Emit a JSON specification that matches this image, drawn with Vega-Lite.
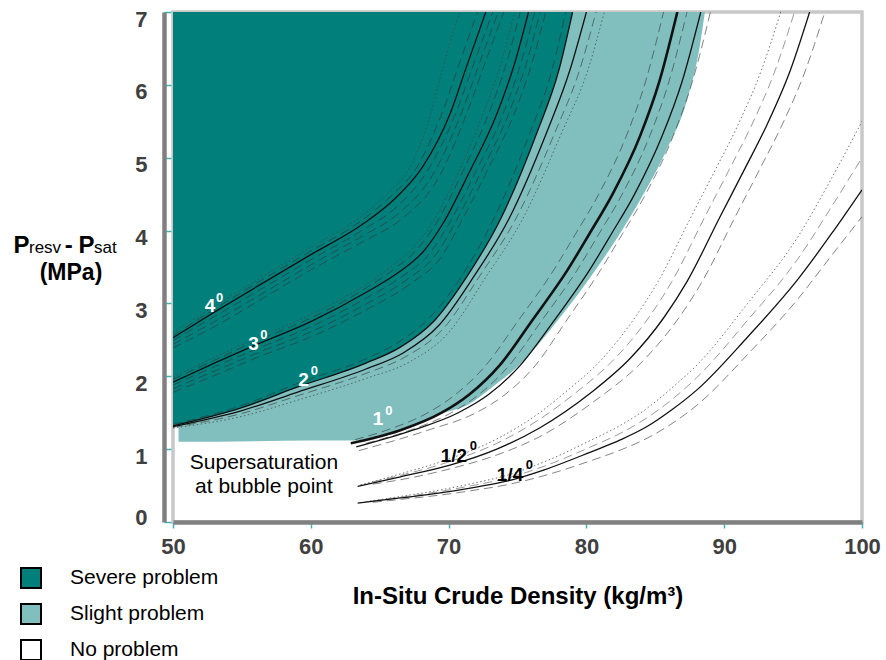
{
  "$schema": "https://vega.github.io/schema/vega-lite/v6.json",
  "width": 689,
  "height": 510,
  "autosize": {"type": "none"},
  "padding": {"left": 173, "top": 12, "right": 24, "bottom": 138},
  "background": "white",
  "config": {
    "font": "Liberation Sans",
    "view": {"stroke": "#c8c8c8", "strokeWidth": 3.5},
    "axis": {"grid": false}
  },
  "datasets": {
    "zones": [
      {"zone": "Slight problem", "x": 50.4, "y": 1.1},
      {"zone": "Slight problem", "x": 56, "y": 1.11},
      {"zone": "Slight problem", "x": 60, "y": 1.12},
      {"zone": "Slight problem", "x": 63.3, "y": 1.12},
      {"zone": "Slight problem", "x": 66.5, "y": 1.25},
      {"zone": "Slight problem", "x": 69.5, "y": 1.49},
      {"zone": "Slight problem", "x": 71.3, "y": 1.6},
      {"zone": "Slight problem", "x": 73.5, "y": 1.9},
      {"zone": "Slight problem", "x": 75, "y": 2.13},
      {"zone": "Slight problem", "x": 78.1, "y": 2.81},
      {"zone": "Slight problem", "x": 81, "y": 3.55},
      {"zone": "Slight problem", "x": 83.9, "y": 4.42},
      {"zone": "Slight problem", "x": 85.8, "y": 5.1},
      {"zone": "Slight problem", "x": 87.3, "y": 5.79},
      {"zone": "Slight problem", "x": 88.2, "y": 6.5},
      {"zone": "Slight problem", "x": 88.6, "y": 7.0},
      {"zone": "Severe problem", "x": 50, "y": 1.32},
      {"zone": "Severe problem", "x": 55, "y": 1.57},
      {"zone": "Severe problem", "x": 59, "y": 1.85},
      {"zone": "Severe problem", "x": 64, "y": 2.18},
      {"zone": "Severe problem", "x": 66.5, "y": 2.4},
      {"zone": "Severe problem", "x": 69, "y": 2.77},
      {"zone": "Severe problem", "x": 71.3, "y": 3.36},
      {"zone": "Severe problem", "x": 73.8, "y": 4.17},
      {"zone": "Severe problem", "x": 76.4, "y": 5.34},
      {"zone": "Severe problem", "x": 78.0, "y": 6.2},
      {"zone": "Severe problem", "x": 79, "y": 7.0}
    ],
    "curves": [
      {"id": "4s", "k": "solid", "x": 50, "y": 2.53}, {"id": "4s", "k": "solid", "x": 53, "y": 2.88}, {"id": "4s", "k": "solid", "x": 56.7, "y": 3.3}, {"id": "4s", "k": "solid", "x": 60, "y": 3.67}, {"id": "4s", "k": "solid", "x": 63.7, "y": 4.08}, {"id": "4s", "k": "solid", "x": 66, "y": 4.42}, {"id": "4s", "k": "solid", "x": 68.1, "y": 4.87}, {"id": "4s", "k": "solid", "x": 70.1, "y": 5.6}, {"id": "4s", "k": "solid", "x": 71.3, "y": 6.25}, {"id": "4s", "k": "solid", "x": 72.7, "y": 7.0},
      {"id": "4o", "k": "dot", "x": 50, "y": 2.6}, {"id": "4o", "k": "dot", "x": 53, "y": 2.96}, {"id": "4o", "k": "dot", "x": 56.7, "y": 3.39}, {"id": "4o", "k": "dot", "x": 60, "y": 3.77}, {"id": "4o", "k": "dot", "x": 63.7, "y": 4.2}, {"id": "4o", "k": "dot", "x": 65.5, "y": 4.5}, {"id": "4o", "k": "dot", "x": 67.2, "y": 4.87}, {"id": "4o", "k": "dot", "x": 68.7, "y": 5.6}, {"id": "4o", "k": "dot", "x": 69.6, "y": 6.25}, {"id": "4o", "k": "dot", "x": 70.8, "y": 7.0},
      {"id": "4a", "k": "dash", "x": 50, "y": 2.56}, {"id": "4a", "k": "dash", "x": 53, "y": 2.92}, {"id": "4a", "k": "dash", "x": 56.7, "y": 3.35}, {"id": "4a", "k": "dash", "x": 60, "y": 3.72}, {"id": "4a", "k": "dash", "x": 63.7, "y": 4.14}, {"id": "4a", "k": "dash", "x": 65.8, "y": 4.47}, {"id": "4a", "k": "dash", "x": 67.7, "y": 4.87}, {"id": "4a", "k": "dash", "x": 69.5, "y": 5.6}, {"id": "4a", "k": "dash", "x": 70.7, "y": 6.25}, {"id": "4a", "k": "dash", "x": 72.1, "y": 7.0},
      {"id": "4b", "k": "dash", "x": 50, "y": 2.49}, {"id": "4b", "k": "dash", "x": 53, "y": 2.82}, {"id": "4b", "k": "dash", "x": 56.7, "y": 3.23}, {"id": "4b", "k": "dash", "x": 60, "y": 3.6}, {"id": "4b", "k": "dash", "x": 63.7, "y": 4.0}, {"id": "4b", "k": "dash", "x": 66.2, "y": 4.32}, {"id": "4b", "k": "dash", "x": 68.4, "y": 4.8}, {"id": "4b", "k": "dash", "x": 70.5, "y": 5.6}, {"id": "4b", "k": "dash", "x": 71.75, "y": 6.25}, {"id": "4b", "k": "dash", "x": 73.2, "y": 7.0},
      {"id": "4c", "k": "dash", "x": 50, "y": 2.44}, {"id": "4c", "k": "dash", "x": 53, "y": 2.75}, {"id": "4c", "k": "dash", "x": 56.7, "y": 3.16}, {"id": "4c", "k": "dash", "x": 60, "y": 3.53}, {"id": "4c", "k": "dash", "x": 63.7, "y": 3.92}, {"id": "4c", "k": "dash", "x": 66.4, "y": 4.24}, {"id": "4c", "k": "dash", "x": 68.8, "y": 4.75}, {"id": "4c", "k": "dash", "x": 70.9, "y": 5.6}, {"id": "4c", "k": "dash", "x": 72.15, "y": 6.25}, {"id": "4c", "k": "dash", "x": 73.6, "y": 7.0},
      {"id": "4d", "k": "dash", "x": 50, "y": 2.39}, {"id": "4d", "k": "dash", "x": 53, "y": 2.68}, {"id": "4d", "k": "dash", "x": 56.7, "y": 3.09}, {"id": "4d", "k": "dash", "x": 60, "y": 3.46}, {"id": "4d", "k": "dash", "x": 63.7, "y": 3.84}, {"id": "4d", "k": "dash", "x": 66.6, "y": 4.16}, {"id": "4d", "k": "dash", "x": 69.2, "y": 4.7}, {"id": "4d", "k": "dash", "x": 71.3, "y": 5.6}, {"id": "4d", "k": "dash", "x": 72.55, "y": 6.25}, {"id": "4d", "k": "dash", "x": 74.0, "y": 7.0},
      {"id": "3s", "k": "solid", "x": 50, "y": 1.92}, {"id": "3s", "k": "solid", "x": 53, "y": 2.18}, {"id": "3s", "k": "solid", "x": 56, "y": 2.43}, {"id": "3s", "k": "solid", "x": 60, "y": 2.75}, {"id": "3s", "k": "solid", "x": 64, "y": 3.15}, {"id": "3s", "k": "solid", "x": 66.4, "y": 3.43}, {"id": "3s", "k": "solid", "x": 68.2, "y": 3.72}, {"id": "3s", "k": "solid", "x": 69.6, "y": 4.1}, {"id": "3s", "k": "solid", "x": 71.5, "y": 4.8}, {"id": "3s", "k": "solid", "x": 73.5, "y": 5.6}, {"id": "3s", "k": "solid", "x": 74.8, "y": 6.3}, {"id": "3s", "k": "solid", "x": 75.8, "y": 7.0},
      {"id": "3o", "k": "dot", "x": 50, "y": 1.99}, {"id": "3o", "k": "dot", "x": 53, "y": 2.26}, {"id": "3o", "k": "dot", "x": 56, "y": 2.52}, {"id": "3o", "k": "dot", "x": 60, "y": 2.85}, {"id": "3o", "k": "dot", "x": 64, "y": 3.26}, {"id": "3o", "k": "dot", "x": 66, "y": 3.53}, {"id": "3o", "k": "dot", "x": 67.6, "y": 3.8}, {"id": "3o", "k": "dot", "x": 68.8, "y": 4.1}, {"id": "3o", "k": "dot", "x": 70.7, "y": 4.8}, {"id": "3o", "k": "dot", "x": 72.5, "y": 5.6}, {"id": "3o", "k": "dot", "x": 73.8, "y": 6.3}, {"id": "3o", "k": "dot", "x": 74.8, "y": 7.0},
      {"id": "3a", "k": "dash", "x": 50, "y": 1.96}, {"id": "3a", "k": "dash", "x": 53, "y": 2.22}, {"id": "3a", "k": "dash", "x": 56, "y": 2.48}, {"id": "3a", "k": "dash", "x": 60, "y": 2.8}, {"id": "3a", "k": "dash", "x": 64, "y": 3.21}, {"id": "3a", "k": "dash", "x": 66.1, "y": 3.48}, {"id": "3a", "k": "dash", "x": 67.8, "y": 3.76}, {"id": "3a", "k": "dash", "x": 69.1, "y": 4.1}, {"id": "3a", "k": "dash", "x": 71, "y": 4.8}, {"id": "3a", "k": "dash", "x": 72.9, "y": 5.6}, {"id": "3a", "k": "dash", "x": 74.2, "y": 6.3}, {"id": "3a", "k": "dash", "x": 75.2, "y": 7.0},
      {"id": "3b", "k": "dash", "x": 50, "y": 1.88}, {"id": "3b", "k": "dash", "x": 53, "y": 2.13}, {"id": "3b", "k": "dash", "x": 56, "y": 2.37}, {"id": "3b", "k": "dash", "x": 60, "y": 2.68}, {"id": "3b", "k": "dash", "x": 64, "y": 3.07}, {"id": "3b", "k": "dash", "x": 66.7, "y": 3.38}, {"id": "3b", "k": "dash", "x": 68.6, "y": 3.68}, {"id": "3b", "k": "dash", "x": 70.05, "y": 4.1}, {"id": "3b", "k": "dash", "x": 71.95, "y": 4.8}, {"id": "3b", "k": "dash", "x": 73.95, "y": 5.6}, {"id": "3b", "k": "dash", "x": 75.25, "y": 6.3}, {"id": "3b", "k": "dash", "x": 76.25, "y": 7.0},
      {"id": "3c", "k": "dash", "x": 50, "y": 1.83}, {"id": "3c", "k": "dash", "x": 53, "y": 2.07}, {"id": "3c", "k": "dash", "x": 56, "y": 2.31}, {"id": "3c", "k": "dash", "x": 60, "y": 2.61}, {"id": "3c", "k": "dash", "x": 64, "y": 2.99}, {"id": "3c", "k": "dash", "x": 67.0, "y": 3.33}, {"id": "3c", "k": "dash", "x": 69.0, "y": 3.65}, {"id": "3c", "k": "dash", "x": 70.45, "y": 4.1}, {"id": "3c", "k": "dash", "x": 72.35, "y": 4.8}, {"id": "3c", "k": "dash", "x": 74.35, "y": 5.6}, {"id": "3c", "k": "dash", "x": 75.65, "y": 6.3}, {"id": "3c", "k": "dash", "x": 76.65, "y": 7.0},
      {"id": "3d", "k": "dash", "x": 50, "y": 1.78}, {"id": "3d", "k": "dash", "x": 53, "y": 2.01}, {"id": "3d", "k": "dash", "x": 56, "y": 2.25}, {"id": "3d", "k": "dash", "x": 60, "y": 2.54}, {"id": "3d", "k": "dash", "x": 64, "y": 2.91}, {"id": "3d", "k": "dash", "x": 67.3, "y": 3.28}, {"id": "3d", "k": "dash", "x": 69.4, "y": 3.62}, {"id": "3d", "k": "dash", "x": 70.85, "y": 4.1}, {"id": "3d", "k": "dash", "x": 72.75, "y": 4.8}, {"id": "3d", "k": "dash", "x": 74.75, "y": 5.6}, {"id": "3d", "k": "dash", "x": 76.05, "y": 6.3}, {"id": "3d", "k": "dash", "x": 77.05, "y": 7.0},
      {"id": "2s", "k": "solid", "x": 50, "y": 1.32}, {"id": "2s", "k": "solid", "x": 55, "y": 1.57}, {"id": "2s", "k": "solid", "x": 59, "y": 1.85}, {"id": "2s", "k": "solid", "x": 64, "y": 2.18}, {"id": "2s", "k": "solid", "x": 66.5, "y": 2.4}, {"id": "2s", "k": "solid", "x": 69, "y": 2.77}, {"id": "2s", "k": "solid", "x": 71.3, "y": 3.36}, {"id": "2s", "k": "solid", "x": 73.8, "y": 4.17}, {"id": "2s", "k": "solid", "x": 76.4, "y": 5.34}, {"id": "2s", "k": "solid", "x": 78.0, "y": 6.2}, {"id": "2s", "k": "solid", "x": 79, "y": 7.0},
      {"id": "2a", "k": "dash", "x": 50, "y": 1.34}, {"id": "2a", "k": "dash", "x": 55, "y": 1.6}, {"id": "2a", "k": "dash", "x": 59, "y": 1.9}, {"id": "2a", "k": "dash", "x": 64, "y": 2.24}, {"id": "2a", "k": "dash", "x": 66.3, "y": 2.46}, {"id": "2a", "k": "dash", "x": 68.7, "y": 2.82}, {"id": "2a", "k": "dash", "x": 70.9, "y": 3.36}, {"id": "2a", "k": "dash", "x": 73.3, "y": 4.17}, {"id": "2a", "k": "dash", "x": 75.9, "y": 5.34}, {"id": "2a", "k": "dash", "x": 77.5, "y": 6.2}, {"id": "2a", "k": "dash", "x": 78.5, "y": 7.0},
      {"id": "2t", "k": "solid", "x": 50, "y": 1.31}, {"id": "2t", "k": "solid", "x": 55, "y": 1.53}, {"id": "2t", "k": "solid", "x": 59, "y": 1.78}, {"id": "2t", "k": "solid", "x": 64, "y": 2.1}, {"id": "2t", "k": "solid", "x": 66.7, "y": 2.32}, {"id": "2t", "k": "solid", "x": 69.3, "y": 2.7}, {"id": "2t", "k": "solid", "x": 71.8, "y": 3.36}, {"id": "2t", "k": "solid", "x": 74.4, "y": 4.17}, {"id": "2t", "k": "solid", "x": 77.1, "y": 5.34}, {"id": "2t", "k": "solid", "x": 78.8, "y": 6.2}, {"id": "2t", "k": "solid", "x": 80.0, "y": 7.0},
      {"id": "2b", "k": "dash", "x": 50, "y": 1.3}, {"id": "2b", "k": "dash", "x": 55, "y": 1.49}, {"id": "2b", "k": "dash", "x": 59, "y": 1.73}, {"id": "2b", "k": "dash", "x": 64, "y": 2.04}, {"id": "2b", "k": "dash", "x": 66.9, "y": 2.27}, {"id": "2b", "k": "dash", "x": 69.6, "y": 2.65}, {"id": "2b", "k": "dash", "x": 72.2, "y": 3.36}, {"id": "2b", "k": "dash", "x": 74.9, "y": 4.17}, {"id": "2b", "k": "dash", "x": 77.7, "y": 5.34}, {"id": "2b", "k": "dash", "x": 79.5, "y": 6.2}, {"id": "2b", "k": "dash", "x": 80.7, "y": 7.0},
      {"id": "2o", "k": "dot", "x": 50, "y": 1.29}, {"id": "2o", "k": "dot", "x": 55, "y": 1.45}, {"id": "2o", "k": "dot", "x": 59, "y": 1.67}, {"id": "2o", "k": "dot", "x": 64, "y": 1.97}, {"id": "2o", "k": "dot", "x": 67.2, "y": 2.2}, {"id": "2o", "k": "dot", "x": 70, "y": 2.6}, {"id": "2o", "k": "dot", "x": 72.7, "y": 3.36}, {"id": "2o", "k": "dot", "x": 75.4, "y": 4.17}, {"id": "2o", "k": "dot", "x": 78.2, "y": 5.34}, {"id": "2o", "k": "dot", "x": 80.1, "y": 6.2}, {"id": "2o", "k": "dot", "x": 81.3, "y": 7.0},
      {"id": "1s", "k": "thick", "x": 62.9, "y": 1.08}, {"id": "1s", "k": "thick", "x": 64.5, "y": 1.15}, {"id": "1s", "k": "thick", "x": 66.5, "y": 1.26}, {"id": "1s", "k": "thick", "x": 69.5, "y": 1.5}, {"id": "1s", "k": "thick", "x": 71.5, "y": 1.75}, {"id": "1s", "k": "thick", "x": 73.7, "y": 2.15}, {"id": "1s", "k": "thick", "x": 76, "y": 2.75}, {"id": "1s", "k": "thick", "x": 78.6, "y": 3.45}, {"id": "1s", "k": "thick", "x": 80.2, "y": 3.95}, {"id": "1s", "k": "thick", "x": 81.9, "y": 4.5}, {"id": "1s", "k": "thick", "x": 83.9, "y": 5.3}, {"id": "1s", "k": "thick", "x": 85.3, "y": 6.05}, {"id": "1s", "k": "thick", "x": 86.6, "y": 7.0},
      {"id": "1a", "k": "dash", "x": 63.2, "y": 1.13}, {"id": "1a", "k": "dash", "x": 65.5, "y": 1.26}, {"id": "1a", "k": "dash", "x": 68.5, "y": 1.5}, {"id": "1a", "k": "dash", "x": 70.5, "y": 1.75}, {"id": "1a", "k": "dash", "x": 72.7, "y": 2.15}, {"id": "1a", "k": "dash", "x": 75, "y": 2.75}, {"id": "1a", "k": "dash", "x": 77.6, "y": 3.45}, {"id": "1a", "k": "dash", "x": 79.2, "y": 3.95}, {"id": "1a", "k": "dash", "x": 80.9, "y": 4.5}, {"id": "1a", "k": "dash", "x": 82.9, "y": 5.3}, {"id": "1a", "k": "dash", "x": 84.3, "y": 6.05}, {"id": "1a", "k": "dash", "x": 85.6, "y": 7.0},
      {"id": "1t", "k": "solid", "x": 63.3, "y": 1.03}, {"id": "1t", "k": "solid", "x": 67.4, "y": 1.26}, {"id": "1t", "k": "solid", "x": 70.7, "y": 1.5}, {"id": "1t", "k": "solid", "x": 72.9, "y": 1.75}, {"id": "1t", "k": "solid", "x": 75.2, "y": 2.15}, {"id": "1t", "k": "solid", "x": 77.6, "y": 2.75}, {"id": "1t", "k": "solid", "x": 80.2, "y": 3.45}, {"id": "1t", "k": "solid", "x": 81.8, "y": 3.95}, {"id": "1t", "k": "solid", "x": 83.5, "y": 4.5}, {"id": "1t", "k": "solid", "x": 85.5, "y": 5.3}, {"id": "1t", "k": "solid", "x": 86.95, "y": 6.05}, {"id": "1t", "k": "solid", "x": 88.3, "y": 7.0},
      {"id": "1b", "k": "dash", "x": 64, "y": 1.08}, {"id": "1b", "k": "dash", "x": 67.2, "y": 1.26}, {"id": "1b", "k": "dash", "x": 70.2, "y": 1.5}, {"id": "1b", "k": "dash", "x": 72.2, "y": 1.75}, {"id": "1b", "k": "dash", "x": 74.4, "y": 2.15}, {"id": "1b", "k": "dash", "x": 76.7, "y": 2.75}, {"id": "1b", "k": "dash", "x": 79.3, "y": 3.45}, {"id": "1b", "k": "dash", "x": 80.9, "y": 3.95}, {"id": "1b", "k": "dash", "x": 82.6, "y": 4.5}, {"id": "1b", "k": "dash", "x": 84.6, "y": 5.3}, {"id": "1b", "k": "dash", "x": 86.0, "y": 6.05}, {"id": "1b", "k": "dash", "x": 87.3, "y": 7.0},
      {"id": "1c", "k": "dash", "x": 63.5, "y": 0.98}, {"id": "1c", "k": "dash", "x": 68.5, "y": 1.26}, {"id": "1c", "k": "dash", "x": 72, "y": 1.5}, {"id": "1c", "k": "dash", "x": 74.1, "y": 1.75}, {"id": "1c", "k": "dash", "x": 76.3, "y": 2.15}, {"id": "1c", "k": "dash", "x": 78.5, "y": 2.75}, {"id": "1c", "k": "dash", "x": 81.0, "y": 3.45}, {"id": "1c", "k": "dash", "x": 82.6, "y": 3.95}, {"id": "1c", "k": "dash", "x": 84.3, "y": 4.5}, {"id": "1c", "k": "dash", "x": 86.3, "y": 5.3}, {"id": "1c", "k": "dash", "x": 87.7, "y": 6.05}, {"id": "1c", "k": "dash", "x": 89.0, "y": 7.0},
      {"id": "hs", "k": "solid", "x": 63.4, "y": 0.49}, {"id": "hs", "k": "solid", "x": 66.5, "y": 0.62}, {"id": "hs", "k": "solid", "x": 70.1, "y": 0.78}, {"id": "hs", "k": "solid", "x": 73.5, "y": 1.0}, {"id": "hs", "k": "solid", "x": 76.6, "y": 1.29}, {"id": "hs", "k": "solid", "x": 80.3, "y": 1.77}, {"id": "hs", "k": "solid", "x": 83.2, "y": 2.25}, {"id": "hs", "k": "solid", "x": 85.6, "y": 2.8}, {"id": "hs", "k": "solid", "x": 87.3, "y": 3.3}, {"id": "hs", "k": "solid", "x": 89.7, "y": 4.19}, {"id": "hs", "k": "solid", "x": 91.5, "y": 4.85}, {"id": "hs", "k": "solid", "x": 93.1, "y": 5.45}, {"id": "hs", "k": "solid", "x": 94.8, "y": 6.2}, {"id": "hs", "k": "solid", "x": 96.2, "y": 7.0},
      {"id": "ho", "k": "dot", "x": 63.6, "y": 0.51}, {"id": "ho", "k": "dot", "x": 66.5, "y": 0.66}, {"id": "ho", "k": "dot", "x": 70.1, "y": 0.87}, {"id": "ho", "k": "dot", "x": 73.5, "y": 1.14}, {"id": "ho", "k": "dot", "x": 76.6, "y": 1.5}, {"id": "ho", "k": "dot", "x": 78.4, "y": 1.77}, {"id": "ho", "k": "dot", "x": 81.2, "y": 2.25}, {"id": "ho", "k": "dot", "x": 83.5, "y": 2.8}, {"id": "ho", "k": "dot", "x": 85.2, "y": 3.3}, {"id": "ho", "k": "dot", "x": 87.6, "y": 4.19}, {"id": "ho", "k": "dot", "x": 89.4, "y": 4.85}, {"id": "ho", "k": "dot", "x": 91.0, "y": 5.45}, {"id": "ho", "k": "dot", "x": 92.7, "y": 6.2}, {"id": "ho", "k": "dot", "x": 94.1, "y": 7.0},
      {"id": "ha", "k": "dashl", "x": 64.5, "y": 0.55}, {"id": "ha", "k": "dashl", "x": 66.5, "y": 0.64}, {"id": "ha", "k": "dashl", "x": 70.1, "y": 0.83}, {"id": "ha", "k": "dashl", "x": 73.5, "y": 1.08}, {"id": "ha", "k": "dashl", "x": 76.6, "y": 1.41}, {"id": "ha", "k": "dashl", "x": 79.2, "y": 1.77}, {"id": "ha", "k": "dashl", "x": 82.1, "y": 2.25}, {"id": "ha", "k": "dashl", "x": 84.5, "y": 2.8}, {"id": "ha", "k": "dashl", "x": 86.2, "y": 3.3}, {"id": "ha", "k": "dashl", "x": 88.6, "y": 4.19}, {"id": "ha", "k": "dashl", "x": 90.4, "y": 4.85}, {"id": "ha", "k": "dashl", "x": 92.0, "y": 5.45}, {"id": "ha", "k": "dashl", "x": 93.7, "y": 6.2}, {"id": "ha", "k": "dashl", "x": 95.1, "y": 7.0},
      {"id": "hb", "k": "dash", "x": 64.5, "y": 0.52}, {"id": "hb", "k": "dash", "x": 66.5, "y": 0.58}, {"id": "hb", "k": "dash", "x": 70.1, "y": 0.73}, {"id": "hb", "k": "dash", "x": 73.5, "y": 0.92}, {"id": "hb", "k": "dash", "x": 76.6, "y": 1.17}, {"id": "hb", "k": "dash", "x": 80.3, "y": 1.62}, {"id": "hb", "k": "dash", "x": 84.3, "y": 2.25}, {"id": "hb", "k": "dash", "x": 86.7, "y": 2.8}, {"id": "hb", "k": "dash", "x": 88.4, "y": 3.3}, {"id": "hb", "k": "dash", "x": 90.8, "y": 4.19}, {"id": "hb", "k": "dash", "x": 92.6, "y": 4.85}, {"id": "hb", "k": "dash", "x": 94.2, "y": 5.45}, {"id": "hb", "k": "dash", "x": 95.9, "y": 6.2}, {"id": "hb", "k": "dash", "x": 97.3, "y": 7.0},
      {"id": "qs", "k": "solid", "x": 63.4, "y": 0.26}, {"id": "qs", "k": "solid", "x": 66.5, "y": 0.33}, {"id": "qs", "k": "solid", "x": 69.4, "y": 0.4}, {"id": "qs", "k": "solid", "x": 72, "y": 0.48}, {"id": "qs", "k": "solid", "x": 74.2, "y": 0.56}, {"id": "qs", "k": "solid", "x": 77, "y": 0.72}, {"id": "qs", "k": "solid", "x": 80.3, "y": 0.96}, {"id": "qs", "k": "solid", "x": 82.5, "y": 1.13}, {"id": "qs", "k": "solid", "x": 84.4, "y": 1.31}, {"id": "qs", "k": "solid", "x": 86.2, "y": 1.54}, {"id": "qs", "k": "solid", "x": 88, "y": 1.81}, {"id": "qs", "k": "solid", "x": 91.7, "y": 2.54}, {"id": "qs", "k": "solid", "x": 95.3, "y": 3.32}, {"id": "qs", "k": "solid", "x": 97.8, "y": 3.96}, {"id": "qs", "k": "solid", "x": 100, "y": 4.56},
      {"id": "qo", "k": "dot", "x": 64, "y": 0.28}, {"id": "qo", "k": "dot", "x": 66.5, "y": 0.35}, {"id": "qo", "k": "dot", "x": 69.4, "y": 0.44}, {"id": "qo", "k": "dot", "x": 72, "y": 0.54}, {"id": "qo", "k": "dot", "x": 74.2, "y": 0.64}, {"id": "qo", "k": "dot", "x": 77, "y": 0.83}, {"id": "qo", "k": "dot", "x": 80.3, "y": 1.12}, {"id": "qo", "k": "dot", "x": 82.5, "y": 1.33}, {"id": "qo", "k": "dot", "x": 84.4, "y": 1.56}, {"id": "qo", "k": "dot", "x": 86.2, "y": 1.84}, {"id": "qo", "k": "dot", "x": 88, "y": 2.15}, {"id": "qo", "k": "dot", "x": 91.7, "y": 3.0}, {"id": "qo", "k": "dot", "x": 95.3, "y": 3.9}, {"id": "qo", "k": "dot", "x": 97.8, "y": 4.72}, {"id": "qo", "k": "dot", "x": 100, "y": 5.5},
      {"id": "qa", "k": "dashl", "x": 64.5, "y": 0.29}, {"id": "qa", "k": "dashl", "x": 66.5, "y": 0.34}, {"id": "qa", "k": "dashl", "x": 69.4, "y": 0.42}, {"id": "qa", "k": "dashl", "x": 72, "y": 0.51}, {"id": "qa", "k": "dashl", "x": 74.2, "y": 0.6}, {"id": "qa", "k": "dashl", "x": 77, "y": 0.77}, {"id": "qa", "k": "dashl", "x": 80.3, "y": 1.03}, {"id": "qa", "k": "dashl", "x": 82.5, "y": 1.22}, {"id": "qa", "k": "dashl", "x": 84.4, "y": 1.43}, {"id": "qa", "k": "dashl", "x": 86.2, "y": 1.68}, {"id": "qa", "k": "dashl", "x": 88, "y": 1.98}, {"id": "qa", "k": "dashl", "x": 91.7, "y": 2.77}, {"id": "qa", "k": "dashl", "x": 95.3, "y": 3.6}, {"id": "qa", "k": "dashl", "x": 97.8, "y": 4.33}, {"id": "qa", "k": "dashl", "x": 100, "y": 5.0},
      {"id": "qb", "k": "dash", "x": 64.5, "y": 0.27}, {"id": "qb", "k": "dash", "x": 66.5, "y": 0.31}, {"id": "qb", "k": "dash", "x": 69.4, "y": 0.37}, {"id": "qb", "k": "dash", "x": 72, "y": 0.44}, {"id": "qb", "k": "dash", "x": 74.2, "y": 0.51}, {"id": "qb", "k": "dash", "x": 77, "y": 0.64}, {"id": "qb", "k": "dash", "x": 80.3, "y": 0.84}, {"id": "qb", "k": "dash", "x": 82.5, "y": 0.99}, {"id": "qb", "k": "dash", "x": 84.4, "y": 1.15}, {"id": "qb", "k": "dash", "x": 86.2, "y": 1.35}, {"id": "qb", "k": "dash", "x": 88, "y": 1.6}, {"id": "qb", "k": "dash", "x": 91.7, "y": 2.3}, {"id": "qb", "k": "dash", "x": 95.3, "y": 3.05}, {"id": "qb", "k": "dash", "x": 97.8, "y": 3.66}, {"id": "qb", "k": "dash", "x": 100, "y": 4.19}
    ],
    "labels": [
      {"g": "w", "t": "4", "x": 52.69, "y": 2.97},
      {"g": "w", "t": "3", "x": 55.84, "y": 2.44},
      {"g": "w", "t": "2", "x": 59.47, "y": 1.95},
      {"g": "w", "t": "1", "x": 64.88, "y": 1.41},
      {"g": "ws", "t": "0", "x": 53.38, "y": 3.08},
      {"g": "ws", "t": "0", "x": 56.6, "y": 2.56},
      {"g": "ws", "t": "0", "x": 60.26, "y": 2.07},
      {"g": "ws", "t": "0", "x": 65.67, "y": 1.53},
      {"g": "b", "t": "1/2", "x": 70.39, "y": 0.91},
      {"g": "b", "t": "1/4", "x": 74.46, "y": 0.645},
      {"g": "bs", "t": "0", "x": 71.8, "y": 1.04},
      {"g": "bs", "t": "0", "x": 75.86, "y": 0.78},
      {"g": "ss", "t": "Supersaturation", "x": 56.6, "y": 0.734},
      {"g": "ss", "t": "at bubble point", "x": 56.6, "y": 0.398},
      {"g": "yP", "t": "P", "x": 38.43, "y": 3.692},
      {"g": "ys", "t": "resv", "x": 39.55, "y": 3.692},
      {"g": "yP", "t": "-", "x": 42.15, "y": 3.692},
      {"g": "yP", "t": "P", "x": 43.15, "y": 3.692},
      {"g": "ys", "t": "sat", "x": 44.27, "y": 3.692},
      {"g": "yM", "t": "(MPa)", "x": 42.6, "y": 3.321}
    ]
  },
  "encoding": {
    "x": {
      "field": "x", "type": "quantitative",
      "scale": {"domain": [50, 100], "nice": false, "zero": false},
      "axis": {
        "values": [50, 60, 70, 80, 90, 100],
        "title": "In-Situ Crude Density (kg/m³)",
        "titleFont": "Liberation Sans", "titleFontSize": 24, "titleFontWeight": "bold", "titleColor": "#000000", "titlePadding": 27,
        "labelFont": "Liberation Sans", "labelFontSize": 22, "labelFontWeight": "bold", "labelColor": "#404040", "labelPadding": 8,
        "labelFlush": false, "labelOverlap": false,
        "domainColor": "#808080", "domainWidth": 4.5,
        "tickColor": "#40b4b4", "tickSize": 6, "tickWidth": 1.5
      }
    },
    "y": {
      "field": "y", "type": "quantitative",
      "scale": {"domain": [0, 7], "nice": false, "zero": false},
      "axis": {
        "values": [0, 1, 2, 3, 4, 5, 6, 7],
        "title": null,
        "offset": 9,
        "labelFont": "Liberation Sans", "labelFontSize": 22, "labelFontWeight": "bold", "labelColor": "#404040", "labelPadding": 24,
        "labelOffset": {"condition": {"test": "datum.value === 0", "value": -5}, "value": 7},
        "labelOverlap": false, "labelFlush": false,
        "domainColor": "#808080", "domainWidth": 4.5,
        "tickColor": "#40b4b4", "tickSize": -7, "tickWidth": 1.5
      }
    }
  },
  "layer": [
    {
      "data": {"name": "zones"},
      "transform": [{"filter": "datum.zone === 'Slight problem'"}],
      "mark": {"type": "area", "interpolate": "monotone", "opacity": 1},
      "encoding": {
        "y": {"field": "y", "type": "quantitative", "stack": null},
        "y2": {"datum": 7},
        "color": {
          "field": "zone", "type": "nominal",
          "scale": {"domain": ["Severe problem", "Slight problem", "No problem"], "range": ["#007f7b", "#80bfbe", "#ffffff"]},
          "legend": {
            "title": null, "orient": "none", "legendX": -153, "legendY": 555,
            "symbolType": "square", "symbolSize": 400, "symbolStrokeColor": "#000000", "symbolStrokeWidth": 2, "symbolOpacity": 1,
            "labelFont": "Liberation Sans", "labelFontSize": 21, "labelColor": "#000000", "labelOffset": 28,
            "rowPadding": 8, "padding": 0
          }
        }
      }
    },
    {
      "data": {"name": "zones"},
      "transform": [{"filter": "datum.zone === 'Severe problem'"}],
      "mark": {"type": "area", "interpolate": "monotone", "opacity": 1},
      "encoding": {
        "y": {"field": "y", "type": "quantitative", "stack": null},
        "y2": {"datum": 7},
        "color": {"field": "zone", "type": "nominal"}
      }
    },
    {
      "data": {"name": "curves"},
      "transform": [{"filter": "datum.k === 'dot'"}],
      "mark": {"type": "line", "interpolate": "monotone", "clip": true, "color": "#444444", "opacity": 0.75, "strokeWidth": 1, "strokeDash": [1.5, 2.5]},
      "encoding": {"detail": {"field": "id"}}
    },
    {
      "data": {"name": "curves"},
      "transform": [{"filter": "datum.k === 'dashl'"}],
      "mark": {"type": "line", "interpolate": "monotone", "clip": true, "color": "#9a9a9a", "strokeWidth": 1, "strokeDash": [9, 5]},
      "encoding": {"detail": {"field": "id"}}
    },
    {
      "data": {"name": "curves"},
      "transform": [{"filter": "datum.k === 'dash'"}],
      "mark": {"type": "line", "interpolate": "monotone", "clip": true, "color": "#333333", "opacity": 0.6, "strokeWidth": 1, "strokeDash": [9, 5]},
      "encoding": {"detail": {"field": "id"}}
    },
    {
      "data": {"name": "curves"},
      "transform": [{"filter": "datum.k === 'solid'"}],
      "mark": {"type": "line", "interpolate": "monotone", "clip": true, "color": "#111111", "strokeWidth": 1.3},
      "encoding": {"detail": {"field": "id"}}
    },
    {
      "data": {"name": "curves"},
      "transform": [{"filter": "datum.k === 'thick'"}],
      "mark": {"type": "line", "interpolate": "monotone", "clip": true, "color": "#111111", "strokeWidth": 2.6},
      "encoding": {"detail": {"field": "id"}}
    },
    {
      "data": {"name": "labels"},
      "transform": [{"filter": "datum.g === 'w'"}],
      "mark": {"type": "text", "font": "Liberation Sans", "fontSize": 19, "fontWeight": "bold", "color": "#ffffff", "align": "center", "baseline": "middle"},
      "encoding": {"text": {"field": "t"}}
    },
    {
      "data": {"name": "labels"},
      "transform": [{"filter": "datum.g === 'ws'"}],
      "mark": {"type": "text", "font": "Liberation Sans", "fontSize": 13, "fontWeight": "bold", "color": "#ffffff", "align": "center", "baseline": "middle"},
      "encoding": {"text": {"field": "t"}}
    },
    {
      "data": {"name": "labels"},
      "transform": [{"filter": "datum.g === 'b'"}],
      "mark": {"type": "text", "font": "Liberation Sans", "fontSize": 19, "fontWeight": "bold", "color": "#000000", "align": "center", "baseline": "middle"},
      "encoding": {"text": {"field": "t"}}
    },
    {
      "data": {"name": "labels"},
      "transform": [{"filter": "datum.g === 'bs'"}],
      "mark": {"type": "text", "font": "Liberation Sans", "fontSize": 13, "fontWeight": "bold", "color": "#000000", "align": "center", "baseline": "middle"},
      "encoding": {"text": {"field": "t"}}
    },
    {
      "data": {"name": "labels"},
      "transform": [{"filter": "datum.g === 'ss'"}],
      "mark": {"type": "text", "font": "Liberation Sans", "fontSize": 21, "color": "#000000", "align": "center", "baseline": "alphabetic"},
      "encoding": {"text": {"field": "t"}}
    },
    {
      "data": {"name": "labels"},
      "transform": [{"filter": "datum.g === 'yP'"}],
      "mark": {"type": "text", "font": "Liberation Sans", "fontSize": 24, "fontWeight": "bold", "color": "#000000", "align": "left", "baseline": "alphabetic"},
      "encoding": {"text": {"field": "t"}}
    },
    {
      "data": {"name": "labels"},
      "transform": [{"filter": "datum.g === 'ys'"}],
      "mark": {"type": "text", "font": "Liberation Sans", "fontSize": 17, "color": "#000000", "align": "left", "baseline": "alphabetic"},
      "encoding": {"text": {"field": "t"}}
    },
    {
      "data": {"name": "labels"},
      "transform": [{"filter": "datum.g === 'yM'"}],
      "mark": {"type": "text", "font": "Liberation Sans", "fontSize": 23, "fontWeight": "bold", "color": "#000000", "align": "center", "baseline": "alphabetic"},
      "encoding": {"text": {"field": "t"}}
    }
  ]
}
